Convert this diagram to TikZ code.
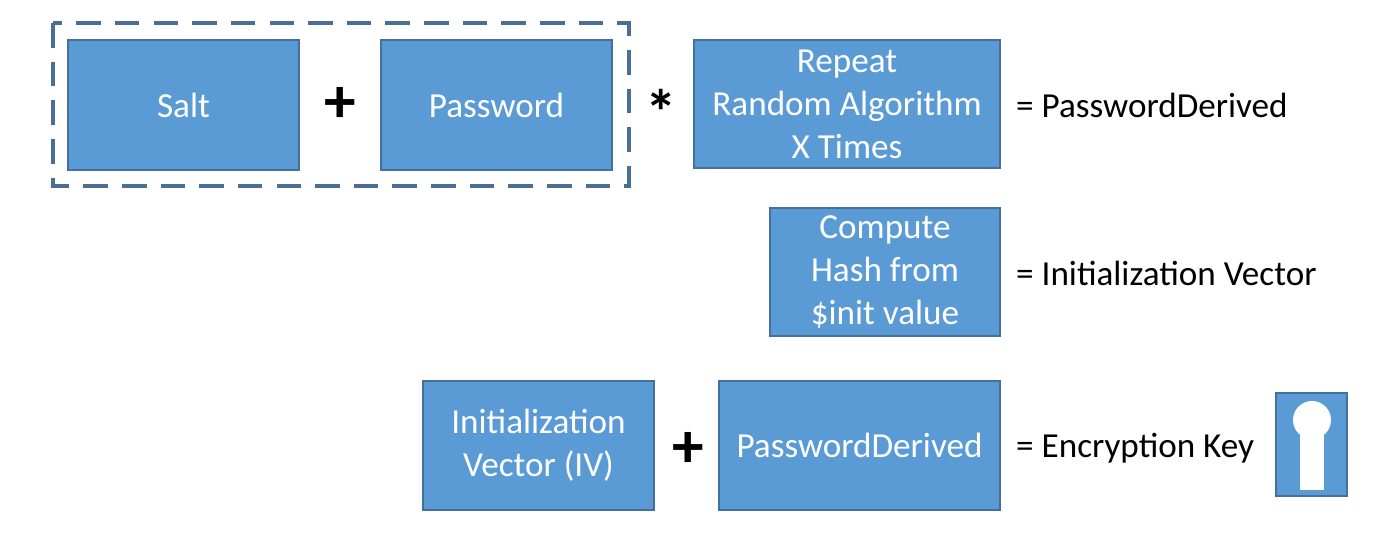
\documentclass[tikz,border=0pt]{standalone}
\usepackage{fontspec}
\setmainfont{Carlito}
\definecolor{boxfill}{HTML}{5B9BD5}
\definecolor{boxline}{HTML}{41719C}
\definecolor{dashline}{HTML}{4A6F96}
\begin{document}
\begin{tikzpicture}[x=0.02cm,y=-0.02cm,
            box/.style = {draw=boxline, fill=boxfill, text=white,
                        line width=0.8pt, align=center, inner sep=0pt,
                        font=\fontsize{20}{24.4}\selectfont},
            op/.style = {font=\fontsize{36}{36}\selectfont\bfseries},
            eq/.style = {anchor=west, font=\fontsize{20}{22}\selectfont}]
            \useasboundingbox (0,0) rectangle (1399,539);
            % Salt and password group
            \draw[dashline, line width=2.8pt, dash pattern=on 14pt off 8pt] (53,23) rectangle (629,186);
            \node[box, minimum width=231*0.02cm, minimum height=130*0.02cm] (salt) at (183.5,105) {Salt};
            \node[box, minimum width=231*0.02cm, minimum height=130*0.02cm] (pw) at (496.5,105) {Password};
            \node[op] (plusA) at (340,105) {+};
            \node[op] (times) at (661,112) {*};
            \node[box, minimum width=306*0.02cm, minimum height=128*0.02cm] (repeat) at (847,104) {Repeat\\Random Algorithm\\X Times};
            \node[eq] (resA) at (1010,105) {= PasswordDerived};
            % Hash box
            \node[box, minimum width=230*0.02cm, minimum height=128*0.02cm] (hash) at (885,272) {Compute\\Hash from\\\$init value};
            \node[eq] (resB) at (1010,273) {= Initialization Vector};
            % Key row
            \node[box, minimum width=231*0.02cm, minimum height=129*0.02cm] (iv) at (538.5,445.5) {Initialization\\Vector (IV)};
            \node[op] (plusB) at (688,450) {+};
            \node[box, minimum width=281*0.02cm, minimum height=129*0.02cm] (pwd) at (859.5,445.5) {PasswordDerived};
            \node[eq] (resC) at (1010,448) {= Encryption Key};
            % Key icon
            \node[box, minimum width=71*0.02cm, minimum height=103*0.02cm] (key) at (1311.5,444.5) {};
            \fill[white] (1312,420) circle (19);
            \fill[white] (1300,425) rectangle (1324,490);
        \end{tikzpicture}
\end{document}
